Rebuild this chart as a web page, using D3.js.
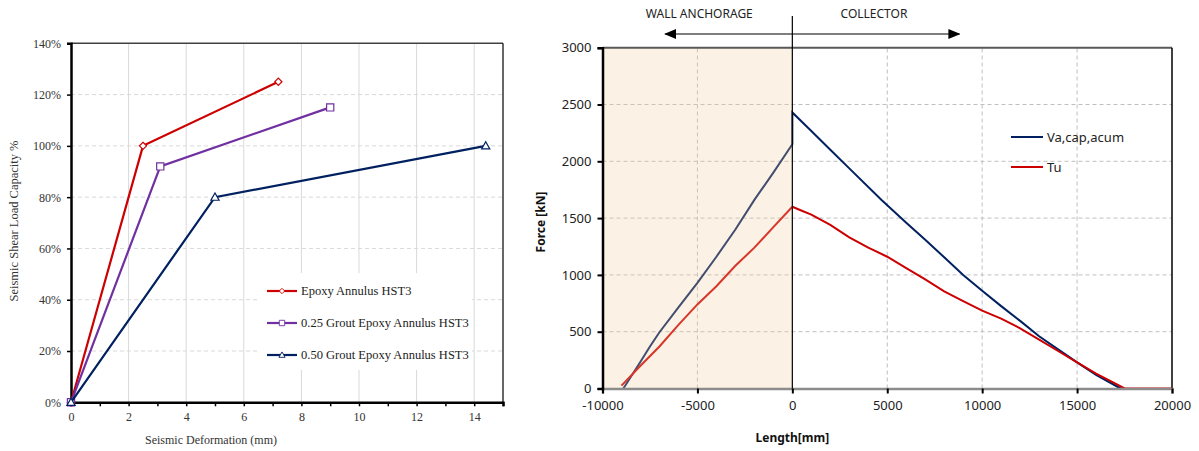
<!DOCTYPE html>
<html>
<head>
<meta charset="utf-8">
<script src="https://cdn.jsdelivr.net/npm/d3@7"></script>
<style>
  body { margin: 0; background: #fff; }
  svg { display: block; }
</style>
</head>
<body>
<div id="chart"></div>
<script>
// ---- left chart data ----
const defSeries = ['Epoxy Annulus HST3', '0.25 Grout Epoxy Annulus HST3', '0.50 Grout Epoxy Annulus HST3'];
const defX = [
  [0, 2.5, 7.2],
  [0, 3.1, 9.0],
  [0, 5.0, 14.4]
];
const defY = [
  [0, 1.00, 1.25],
  [0, 0.92, 1.15],
  [0, 0.80, 1.00]
];
const defColors = ['#cc0000', '#7030a0', '#002060'];
const defMarkers = ['diamond', 'square', 'triangle'];
const defXTicks = [0, 2, 4, 6, 8, 10, 12, 14];
const defYTicks = [0, 0.2, 0.4, 0.6, 0.8, 1.0, 1.2, 1.4];

// ---- right chart data ----
const lenVa = [-8900, -8000, -7500, -7000, -6000, -5000, -4000, -3000, -2000, -1000, 0, 0, 1000, 2000, 3000, 4700, 6000, 7000, 8000, 9000, 10000, 11000, 12000, 13000, 14000, 15000, 16000, 17300];
const forceVa = [0, 235, 370, 495, 715, 930, 1160, 1400, 1660, 1900, 2150, 2430, 2266, 2102, 1938, 1660, 1460, 1310, 1155, 1000, 860, 725, 595, 460, 345, 230, 120, 0];
const lenTu = [-9000, -8000, -7000, -6000, -5000, -4000, -3000, -2000, -1000, 0, 500, 1000, 2000, 3000, 4000, 5000, 6000, 7000, 8000, 9000, 10000, 11000, 12000, 13000, 14000, 15000, 16000, 17000, 17500, 20000];
const forceTu = [25, 200, 370, 560, 740, 900, 1080, 1240, 1420, 1600, 1565, 1530, 1440, 1330, 1240, 1160, 1060, 960, 855, 770, 685, 615, 530, 430, 330, 230, 130, 45, 0, 0];
const forceNames = ['Va,cap,acum', 'Tu'];
const forceColors = ['#002060', '#cc0000'];
const lenTicks = [-10000, -5000, 0, 5000, 10000, 15000, 20000];
const forceTicks = [0, 500, 1000, 1500, 2000, 2500, 3000];
const zoneLabels = ['WALL ANCHORAGE', 'COLLECTOR'];

const width = 1199, height = 451;
const serif = '"Liberation Serif", "Times New Roman", serif';
const sans = '"Noto Sans", "Open Sans", sans-serif';

const svg = d3.select('#chart').append('svg')
  .attr('width', width)
  .attr('height', height);

svg.append('defs').append('marker')
  .attr('id', 'arrow')
  .attr('viewBox', '0 0 12 10')
  .attr('refX', 11).attr('refY', 5)
  .attr('markerWidth', 12).attr('markerHeight', 10)
  .attr('markerUnits', 'userSpaceOnUse')
  .attr('orient', 'auto-start-reverse')
  .append('path')
  .attr('d', 'M0,0 L12,5 L0,10 Z')
  .attr('fill', '#000');

// ================= left chart =================
{
  const x = d3.scaleLinear().domain([0, 15]).range([71, 503]);
  const y = d3.scaleLinear().domain([0, 1.4]).range([402.3, 43.3]);
  const g = svg.append('g');

  // grid
  g.append('g').selectAll('line').data(defXTicks.filter(d => d > 0))
    .join('line')
    .attr('x1', d => x(d)).attr('x2', d => x(d))
    .attr('y1', y(0)).attr('y2', y(1.4))
    .attr('stroke', '#d9d9d9').attr('stroke-width', 1);
  g.append('g').selectAll('line').data(defYTicks.filter(d => d > 0 && d < 1.4))
    .join('line')
    .attr('x1', x(0)).attr('x2', x(15))
    .attr('y1', d => y(d)).attr('y2', d => y(d))
    .attr('stroke', '#d9d9d9').attr('stroke-dasharray', '4,3');

  // frame top / right
  g.append('line').attr('x1', x(0)).attr('x2', x(15)).attr('y1', y(1.4)).attr('y2', y(1.4))
    .attr('stroke', '#404040').attr('stroke-width', 1.5);
  g.append('line').attr('x1', x(15)).attr('x2', x(15)).attr('y1', y(1.4)).attr('y2', y(0))
    .attr('stroke', '#000').attr('stroke-width', 1.2);

  // legend box (drawn before series so it hides grid only)
  g.append('rect').attr('x', 260).attr('y', 273).attr('width', 212).attr('height', 97).attr('fill', '#fff');

  const xAxis = d3.axisBottom(x).tickValues(d3.range(0, 16)).tickSize(4)
    .tickFormat(d => defXTicks.includes(d) ? d : '');
  g.append('g').attr('transform', `translate(0,${y(0)})`).call(xAxis)
    .call(a => a.select('.domain').attr('stroke-width', 2.5).attr('stroke', '#000'))
    .call(a => a.selectAll('.tick line').attr('stroke-width', 1.5))
    .call(a => a.selectAll('text').attr('font-family', serif).attr('font-size', 12).attr('fill', '#333').attr('dy', '0.95em'));

  const yAxis = d3.axisLeft(y).tickValues(defYTicks).tickSize(4).tickFormat(d3.format('.0%'));
  g.append('g').attr('transform', `translate(${x(0)},0)`).call(yAxis)
    .call(a => a.select('.domain').attr('stroke-width', 2.5).attr('stroke', '#000'))
    .call(a => a.selectAll('.tick line').attr('stroke-width', 1.5))
    .call(a => a.selectAll('text').attr('font-family', serif).attr('font-size', 12).attr('fill', '#333').attr('x', -10));

  const line = d3.line().x(d => x(d[0])).y(d => y(d[1]));
  const markerPath = (type, cx, cy) => {
    const s = 3.6;
    if (type === 'diamond') return `M${cx},${cy - s}L${cx + s},${cy}L${cx},${cy + s}L${cx - s},${cy}Z`;
    if (type === 'square') return `M${cx - s},${cy - s}h${2 * s}v${2 * s}h${-2 * s}Z`;
    return `M${cx},${cy - s - 0.5}L${cx + s + 0.5},${cy + s - 0.5}L${cx - s - 0.5},${cy + s - 0.5}Z`;
  };

  defSeries.forEach((name, i) => {
    const pts = defX[i].map((v, j) => [v, defY[i][j]]);
    g.append('path').datum(pts).attr('d', line)
      .attr('fill', 'none').attr('stroke', defColors[i]).attr('stroke-width', 2.2);
    g.append('g').selectAll('path').data(pts).join('path')
      .attr('d', d => markerPath(defMarkers[i], x(d[0]), y(d[1])))
      .attr('fill', '#fff').attr('stroke', defColors[i]).attr('stroke-width', 1.2);

    // legend entry
    const ly = 291 + i * 32;
    g.append('line').attr('x1', 267).attr('x2', 297).attr('y1', ly).attr('y2', ly)
      .attr('stroke', defColors[i]).attr('stroke-width', 2.2);
    g.append('path').attr('d', markerPath(defMarkers[i], 282, ly))
      .attr('transform', `translate(282,${ly}) scale(0.75) translate(-282,${-ly})`)
      .attr('fill', '#fff').attr('stroke', defColors[i]).attr('stroke-width', 1.2);
    g.append('text').attr('x', 301).attr('y', ly).attr('dy', '0.35em')
      .attr('font-family', serif).attr('font-size', 12.5).attr('fill', '#222')
      .text(name);
  });

  g.append('text').attr('x', 211).attr('y', 444).attr('text-anchor', 'middle')
    .attr('font-family', serif).attr('font-size', 12).attr('fill', '#333')
    .text('Seismic Deformation (mm)');
  g.append('text').attr('transform', 'translate(18,221) rotate(-90)').attr('text-anchor', 'middle')
    .attr('font-family', serif).attr('font-size', 12.5).attr('fill', '#333')
    .text('Seismic Shear Load Capacity %');
}

// ================= right chart =================
{
  const x = d3.scaleLinear().domain([-10000, 20000]).range([602.5, 1172]);
  const y = d3.scaleLinear().domain([0, 3000]).range([388.5, 47.7]);
  const g = svg.append('g');

  // grid
  g.append('g').selectAll('line').data(lenTicks.filter(d => d !== -10000 && d !== 0 && d !== 20000))
    .join('line')
    .attr('x1', d => x(d)).attr('x2', d => x(d))
    .attr('y1', y(0)).attr('y2', y(3000))
    .attr('stroke', '#bfbfbf').attr('stroke-dasharray', '4,3');
  g.append('g').selectAll('line').data(forceTicks.filter(d => d > 0 && d < 3000))
    .join('line')
    .attr('x1', x(-10000)).attr('x2', x(20000))
    .attr('y1', d => y(d)).attr('y2', d => y(d))
    .attr('stroke', '#bfbfbf').attr('stroke-dasharray', '4,3');

  // series
  const line = d3.line().x(d => x(d[0])).y(d => y(d[1]));
  const series = [
    lenVa.map((v, j) => [v, forceVa[j]]),
    lenTu.map((v, j) => [v, forceTu[j]])
  ];
  series.forEach((pts, i) => {
    g.append('path').datum(pts).attr('d', line)
      .attr('fill', 'none').attr('stroke', forceColors[i]).attr('stroke-width', 2);
  });

  // wall anchorage shading, translucent over the lines
  g.append('rect')
    .attr('x', x(-10000)).attr('y', y(3000))
    .attr('width', x(0) - x(-10000)).attr('height', y(0) - y(3000))
    .attr('fill', 'rgb(242,205,155)').attr('fill-opacity', 0.27);

  // frame
  g.append('line').attr('x1', x(-10000)).attr('x2', x(20000)).attr('y1', y(3000)).attr('y2', y(3000))
    .attr('stroke', '#595959').attr('stroke-width', 2);
  g.append('line').attr('x1', x(20000)).attr('x2', x(20000)).attr('y1', y(3000)).attr('y2', y(0))
    .attr('stroke', '#000').attr('stroke-width', 1.5);

  const xAxis = d3.axisBottom(x).tickValues(lenTicks).tickSize(5).tickFormat(d => String(d));
  g.append('g').attr('transform', `translate(0,${y(0)})`).call(xAxis)
    .call(a => a.select('.domain').attr('stroke', '#8c8c8c').attr('stroke-width', 2.5))
    .call(a => a.selectAll('.tick line').attr('stroke', '#000').attr('stroke-width', 2))
    .call(a => a.selectAll('text').attr('font-family', sans).attr('font-size', 13).attr('fill', '#222').attr('dy', '1.05em'));

  const yAxis = d3.axisLeft(y).tickValues(forceTicks).tickSize(5).tickFormat(d => String(d));
  g.append('g').attr('transform', `translate(${x(-10000)},0)`).call(yAxis)
    .call(a => a.select('.domain').attr('stroke', '#000').attr('stroke-width', 2.5))
    .call(a => a.selectAll('.tick line').attr('stroke', '#000').attr('stroke-width', 2))
    .call(a => a.selectAll('text').attr('font-family', sans).attr('font-size', 13).attr('fill', '#222').attr('x', -11));

  // zone divider and arrows
  g.append('line').attr('x1', x(0)).attr('x2', x(0)).attr('y1', 16).attr('y2', y(0))
    .attr('stroke', '#000').attr('stroke-width', 1.2);
  g.append('line').attr('x1', x(-6700)).attr('x2', x(8800)).attr('y1', 34).attr('y2', 34)
    .attr('stroke', '#000').attr('stroke-width', 1.2)
    .attr('marker-start', 'url(#arrow)').attr('marker-end', 'url(#arrow)');
  g.append('text').attr('x', x(-4900)).attr('y', 18).attr('text-anchor', 'middle')
    .attr('font-family', sans).attr('font-size', 12).attr('fill', '#222').text(zoneLabels[0]);
  g.append('text').attr('x', x(4300)).attr('y', 18).attr('text-anchor', 'middle')
    .attr('font-family', sans).attr('font-size', 12).attr('fill', '#222').text(zoneLabels[1]);

  // legend
  forceNames.forEach((name, i) => {
    const ly = 137 + i * 30;
    g.append('line').attr('x1', 1011).attr('x2', 1043).attr('y1', ly).attr('y2', ly)
      .attr('stroke', forceColors[i]).attr('stroke-width', 2);
    g.append('text').attr('x', 1047).attr('y', ly).attr('dy', '0.35em')
      .attr('font-family', sans).attr('font-size', 13).attr('fill', '#222').text(name);
  });

  g.append('text').attr('x', x(0)).attr('y', 442).attr('text-anchor', 'middle')
    .attr('font-family', sans).attr('font-size', 12).attr('font-weight', 'bold').attr('fill', '#111')
    .text('Length[mm]');
  g.append('text').attr('transform', 'translate(545,222) rotate(-90)').attr('text-anchor', 'middle')
    .attr('font-family', sans).attr('font-size', 12).attr('font-weight', 'bold').attr('fill', '#111')
    .text('Force [kN]');
}
</script>
</body>
</html>
